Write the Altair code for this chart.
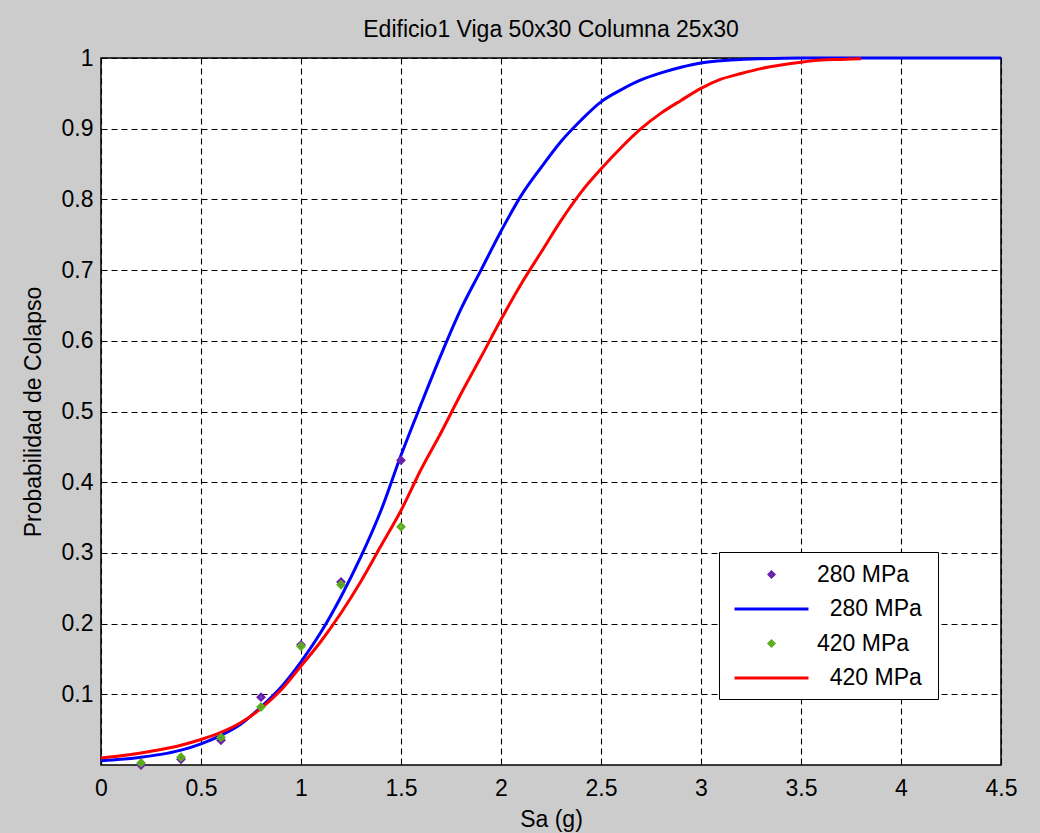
import altair as alt
import pandas as pd

# ---- data ----
sa_blue = [0.0, 0.1, 0.2, 0.3, 0.4, 0.5, 0.6, 0.7, 0.8, 0.9, 1.0, 1.1, 1.2, 1.3, 1.4, 1.5,
           1.6, 1.7, 1.8, 1.9, 2.0, 2.1, 2.2, 2.3, 2.4, 2.5, 2.6, 2.7, 2.8, 2.9, 3.0,
           3.1, 3.2, 3.3, 3.5, 4.0, 4.5]
p_blue = [0.006, 0.008, 0.011, 0.015, 0.021, 0.030, 0.042, 0.058, 0.082, 0.110, 0.146,
          0.188, 0.238, 0.295, 0.36, 0.438, 0.51, 0.58, 0.645, 0.70, 0.755, 0.805,
          0.845, 0.882, 0.912, 0.938, 0.955, 0.969, 0.979, 0.987, 0.993, 0.996,
          0.998, 0.999, 1.0, 1.0, 1.0]

sa_red = [0.0, 0.1, 0.2, 0.3, 0.4, 0.5, 0.6, 0.7, 0.8, 0.9, 1.0, 1.1, 1.2, 1.3, 1.4, 1.5,
          1.6, 1.7, 1.8, 1.9, 2.0, 2.1, 2.2, 2.3, 2.4, 2.5, 2.6, 2.7, 2.8, 2.9, 3.0,
          3.1, 3.2, 3.3, 3.4, 3.5, 3.6, 3.7, 3.8]
p_red = [0.010, 0.013, 0.017, 0.022, 0.028, 0.036, 0.046, 0.060, 0.080, 0.106, 0.140,
         0.175, 0.215, 0.26, 0.31, 0.36, 0.418, 0.47, 0.525, 0.577, 0.63, 0.68,
         0.725, 0.77, 0.81, 0.843, 0.873, 0.90, 0.922, 0.94, 0.957, 0.97, 0.978,
         0.985, 0.99, 0.994, 0.997, 0.998, 0.999]

sa_pts = [0.2, 0.4, 0.6, 0.8, 1.0, 1.2, 1.5]
p_280 = [0.0, 0.008, 0.035, 0.096, 0.17, 0.259, 0.431]
p_420 = [0.003, 0.011, 0.039, 0.082, 0.168, 0.255, 0.337]

series_keys = ["p280", "l280", "p420", "l420"]
series_labels = ["280 MPa",
                 "\u200b\u00a0\u00a0280 MPa\u00a0\u200b",
                 "420 MPa",
                 "\u200b\u00a0\u00a0420 MPa\u00a0\u200b"]
series_colors = ["#6a1fb0", "#0000ff", "#5cad1e", "#ff0000"]

x_ticks = [0, 0.5, 1, 1.5, 2, 2.5, 3, 3.5, 4, 4.5]
y_ticks = [0.1, 0.2, 0.3, 0.4, 0.5, 0.6, 0.7, 0.8, 0.9, 1.0]

lines_df = pd.concat([
    pd.DataFrame({"sa": sa_blue, "p": p_blue, "series": "l280"}),
    pd.DataFrame({"sa": sa_red, "p": p_red, "series": "l420"}),
], ignore_index=True)
pts_df = pd.concat([
    pd.DataFrame({"sa": sa_pts, "p": p_280, "series": "p280"}),
    pd.DataFrame({"sa": sa_pts, "p": p_420, "series": "p420"}),
], ignore_index=True)

FONT = "Liberation Sans"
FS = 23

DIAMOND = "M0,-0.2L0.2,0L0,0.2L-0.2,0Z"
LINE = "M-3.08,0L3.08,0"
shape_range = [DIAMOND, LINE, DIAMOND, LINE]

label_expr = " : ".join(
    f"datum.value == '{k}' ? '{l}'" for k, l in zip(series_keys[:-1], series_labels[:-1])
) + f" : '{series_labels[-1]}'"

legend = alt.Legend(
    orient="none", legendX=618, legendY=494, title=None,
    labelExpr=label_expr,
    labelFont=FONT, labelFontSize=FS, labelColor="#000000",
    symbolSize=576, symbolOffset=30, labelOffset=32, rowPadding=8.5,
    symbolStrokeWidth=3, symbolOpacity=1,
    padding=9, strokeColor="#000000", fillColor="#ffffff", cornerRadius=0,
)

color = alt.Color("series:N", scale=alt.Scale(domain=series_keys, range=series_colors),
                  legend=legend, sort=series_keys)
shape = alt.Shape("series:N", scale=alt.Scale(domain=series_keys, range=shape_range),
                  legend=legend, sort=series_keys)

x_enc = alt.X("sa:Q", scale=alt.Scale(domain=[0, 4.5], nice=False, zero=False),
              axis=alt.Axis(values=x_ticks, format=".1~f", title="Sa (g)", labelFlush=False,
                            labelOverlap=False, labelPadding=12, titlePadding=8))
y_enc = alt.Y("p:Q", scale=alt.Scale(domain=[0, 1], nice=False),
              axis=alt.Axis(values=y_ticks, format=".1~f", title="Probabilidad de Colapso",
                            labelFlush=False, labelOverlap=False, labelPadding=8, titlePadding=16))

lines = alt.Chart(lines_df).mark_line(strokeWidth=3, interpolate="monotone").encode(
    x=x_enc, y=y_enc, color=color, detail="series:N")
points = alt.Chart(pts_df).mark_point(filled=False, strokeWidth=3, size=784, opacity=1).encode(
    x=x_enc, y=y_enc, color=color, shape=shape)

chart = alt.layer(lines, points).properties(
    width=900, height=707,
    title=alt.TitleParams("Edificio1 Viga 50x30 Columna 25x30", font=FONT, fontSize=FS,
                          fontWeight="normal", color="#000000", anchor="middle",
                          frame="group", baseline="alphabetic", offset=-13),
    autosize=alt.AutoSizeParams(type="none"),
    padding={"left": 101, "top": 58, "right": 39, "bottom": 68},
    background="#cccccc",
).configure_view(
    fill="#ffffff", stroke="#000000", strokeWidth=1.5
).configure_axis(
    grid=True, gridColor="#000000", gridDash=[6, 4], gridWidth=1.1, gridOpacity=1,
    domain=False, ticks=False,
    labelFont=FONT, labelFontSize=FS, labelColor="#000000",
    titleFont=FONT, titleFontSize=FS, titleFontWeight="normal", titleColor="#000000",
)

chart.save("out.html", embed_options={"renderer": "svg", "actions": False})
